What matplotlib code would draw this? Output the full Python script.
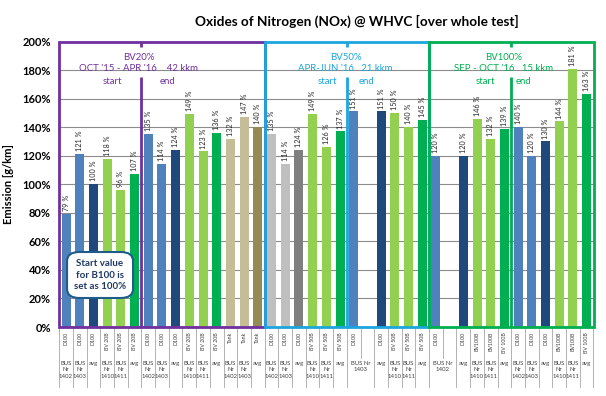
import numpy as np
import matplotlib.pyplot as plt
from matplotlib.patches import Rectangle, FancyBboxPatch

plt.rcParams['font.family'] = ['Lato', 'DejaVu Sans']

# ------------------------------------------------------------
# data (NOx relative to B100 start value, %)
# ------------------------------------------------------------
values = [79, 121, 100, 118, 96, 107,
          135, 114, 124, 149, 123, 136, 132, 147, 140,
          135, 114, 124, 149, 126, 137,
          151, None, 151, 150, 140, 145,
          120, None, 120, 146, 132, 139,
          140, 120, 130, 144, 181, 163]

fuel_labels = ['D100', 'D100', 'D100', 'BV 20B', 'BV 20B', 'BV 20B',
               'D100', 'D100', 'D100', 'BV 20B', 'BV 20B', 'BV 20B', 'Tank', 'Tank', 'Tank',
               'D100', 'D100', 'D100', 'BV 50B', 'BV 50B', 'BV 50B',
               'D100', '', 'D100', 'BV 50B', 'BV 50B', 'BV 50B',
               'D100', '', 'D100', 'BV100B', 'BV100B', 'BV 100B',
               'D100', 'D100', 'D100', 'BV100B', 'BV100B', 'BV 100B']

bus_labels = ['BUS\nNr\n1402', 'BUS\nNr\n1403', 'avg', 'BUS\nNr\n1410', 'BUS\nNr\n1411', 'avg',
              'BUS\nNr\n1402', 'BUS\nNr\n1403', 'avg', 'BUS\nNr\n1410', 'BUS\nNr\n1411', 'avg',
              'BUS\nNr\n1402', 'BUS\nNr\n1403', 'avg',
              'BUS\nNr\n1402', 'BUS\nNr\n1403', 'avg', 'BUS\nNr\n1410', 'BUS\nNr\n1411', 'avg',
              'BUS Nr\n1403', None, 'avg', 'BUS\nNr\n1410', 'BUS\nNr\n1411', 'avg',
              'BUS Nr\n1402', None, 'avg', 'BUS\nNr\n1410', 'BUS\nNr\n1411', 'avg',
              'BUS\nNr\n1402', 'BUS\nNr\n1403', 'avg', 'BUS\nNr\n1410', 'BUS\nNr\n1411', 'avg']

BLUE, DBLUE = '#4F81BD', '#1F497D'
LGREEN, GREEN = '#92D050', '#00B050'
TAN, OLIVE = '#C4BD97', '#948A54'
LGRAY, GRAY = '#BFBFBF', '#7F7F7F'
bar_colors = [BLUE, BLUE, DBLUE, LGREEN, LGREEN, GREEN,
              BLUE, BLUE, DBLUE, LGREEN, LGREEN, GREEN, TAN, TAN, OLIVE,
              LGRAY, LGRAY, GRAY, LGREEN, LGREEN, GREEN,
              BLUE, BLUE, DBLUE, LGREEN, LGREEN, GREEN,
              BLUE, BLUE, DBLUE, LGREEN, LGREEN, GREEN,
              BLUE, BLUE, DBLUE, LGREEN, LGREEN, GREEN]

# campaign boxes: (first cat, last cat, colour, title, period, divider, text x, start x, end x)
campaigns = [(0, 14, '#7030A0', 'BV20%', "OCT '15 - APR '16    42 kkm", 5.5, 5.3, 3.4, 7.4),
             (15, 26, '#1BA6DE', 'BV50%', "APR-JUN '16   21 kkm", 20.5, 20.4, 19.1, 21.9),
             (27, 38, '#00B050', 'BV100%', "SEP - OCT '16   15 kkm", 32.5, 31.9, 30.6, 33.4)]

# ------------------------------------------------------------
# figure
# ------------------------------------------------------------
W, H = 606, 396
fig = plt.figure(figsize=(W / 100, H / 100), dpi=100)
x0, x1, ytop, ybot = 59.2, 593.5, 41.5, 327
ax = fig.add_axes([x0 / W, (H - ybot) / H, (x1 - x0) / W, (ybot - ytop) / H])

n = len(values)
for i, v in enumerate(values):
    if v is None:
        continue
    ax.bar(i, v, width=0.66, color=bar_colors[i], zorder=2)
    ax.text(i, v + 2, f'{v} %', rotation=90, ha='center', va='bottom',
            fontsize=5.2, color='#262626', zorder=3)

ax.set_xlim(-0.5, n - 0.5)
ax.set_ylim(0, 200)
ax.set_yticks(np.arange(0, 201, 20))
ax.set_yticklabels([f'{t}%' for t in range(0, 201, 20)], fontsize=8, fontweight='bold')
ax.yaxis.grid(True, color='#8C8C8C', linewidth=0.8, zorder=0)
ax.set_axisbelow(True)
ax.set_xticks([])
for s in ax.spines.values():
    s.set_visible(False)
ax.tick_params(axis='y', length=0, pad=6)
ax.set_ylabel('Emission [g/km]', fontsize=8, fontweight='bold', labelpad=6)

# px -> data y
def py(ypx):
    return (ybot - ypx) / ((ybot - ytop) / 200)

# multi-level category axis
for i in range(n):
    if fuel_labels[i]:
        ax.text(i, py(332), fuel_labels[i], rotation=90, ha='center', va='top',
                fontsize=3.8, color='#404040', clip_on=False)
    b = bus_labels[i]
    if b is None:
        continue
    xc = i + 0.5 if b.startswith('BUS Nr') else i
    ax.text(xc, py(361), b, ha='center', va='top', fontsize=4.3,
            color='#404040', linespacing=1.35, clip_on=False)
merged = {21.5, 27.5}
for k in range(n + 1):
    xb = k - 0.5
    bottom = py(358) if xb in merged else py(387)
    ax.plot([xb, xb], [0, bottom], color='#A6A6A6', linewidth=0.6, clip_on=False, zorder=1)

# campaign boxes and labels
for first, last, col, name, period, xdiv, xtxt, xst, xen in campaigns:
    ax.add_patch(Rectangle((first - 0.5, 0), last - first + 1, 200, fill=False,
                           edgecolor=col, linewidth=2.0, clip_on=False, zorder=4))
    ax.plot([xdiv, xdiv], [200, py(47)], color=col, linewidth=2.0, zorder=4,
            clip_on=False, solid_capstyle='butt')
    ax.plot([xdiv, xdiv], [0, py(77)], color=col, linewidth=2.0, zorder=4,
            solid_capstyle='butt')
    ax.text(xtxt, py(57), name, ha='center', va='center', fontsize=6.9, color=col, zorder=5)
    ax.text(xtxt, py(68.5), period, ha='center', va='center', fontsize=6.9, color=col, zorder=5)
    ax.text(xst, py(81), 'start', ha='center', va='center', fontsize=6.9, color=col, zorder=5)
    ax.text(xen, py(81), 'end', ha='center', va='center', fontsize=6.9, color=col, zorder=5)

# note box
ax.add_patch(FancyBboxPatch(((67 - 66) / 13.7, py(298)), 66 / 13.7, (298 - 252) / 1.4275,
                            boxstyle='round,pad=0,rounding_size=0.9', mutation_aspect=7,
                            facecolor='white', edgecolor='#1F5C8B', linewidth=1.5, zorder=5))
ax.text((100 - 66) / 13.7, py(275), 'Start value\nfor B100 is\nset as 100%', ha='center',
        va='center', fontsize=7, fontweight='bold', color='#1F3864', linespacing=1.3, zorder=6)

fig.text(357 / W, (H - 21) / H, 'Oxides of Nitrogen (NOx) @ WHVC [over whole test]',
         ha='center', va='center', fontsize=9.8, fontweight='bold')

fig.savefig('out.png', dpi=100)
